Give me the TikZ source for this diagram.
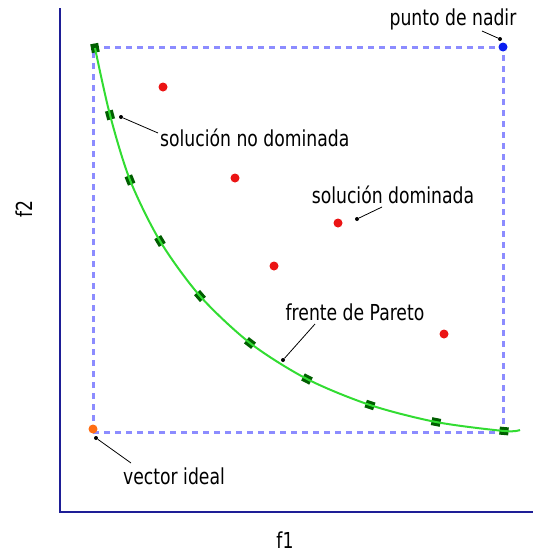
\documentclass[tikz,border=0pt]{standalone}
\usepackage{fontspec}
\setmainfont[FakeStretch=0.87]{DejaVu Sans Condensed}
\usetikzlibrary{positioning}
\definecolor{axisblue}{RGB}{30,30,150}
\definecolor{boundblue}{RGB}{140,140,255}
\definecolor{frontgreen}{RGB}{50,220,50}
\definecolor{optgreen}{RGB}{0,95,0}
\definecolor{domred}{RGB}{235,20,20}
\definecolor{nadirblue}{RGB}{10,30,240}
\definecolor{idealorange}{RGB}{255,110,20}

\begin{document}
\begin{tikzpicture}[
x=1pt, y=-1pt,
axisline/.style={draw=axisblue, line width=2pt},
bound/.style={draw=boundblue, line width=3pt, dash pattern=on 6pt off 5pt},
front/.style={draw=frontgreen, line width=2pt},
optimum/.style={rectangle, fill=optgreen, minimum width=9pt, minimum height=8pt, inner sep=0pt},
solution/.style={circle, fill=domred, minimum size=9pt, inner sep=0pt},
tag/.style={font=\fontsize{22}{24}\selectfont, inner sep=0pt, anchor=base},
pointer/.style={draw, line width=0.8pt},
pointdot/.style={circle, fill, minimum size=4pt, inner sep=0pt}
]
\useasboundingbox (0,0) rectangle (533,554);

% axes and bounds
\draw[axisline] (60,8) -- (60,512) -- (533,512);
\draw[bound] (93,432) rectangle (503,47);

% pareto front
\foreach \x/\y [count=\i] in {95/48, 110/115, 130/180, 160/241, 200/296, 250/343, 307/379, 370/405, 436/422, 504/431}
  \coordinate (p\i) at (\x,\y);
\coordinate (frontend) at (520,430);
\foreach \a [count=\i] in {-80, -75, -68, -59, -49, -38, -27, -18, -11, -5}
  \node[optimum, rotate=\a] (opt\i) at (p\i) {};
\draw[front] plot[smooth] coordinates {(p1) (p2) (p3) (p4) (p5) (p6) (p7) (p8) (p9) (p10) (frontend)};

% dominated solutions
\foreach \x/\y [count=\i] in {163/87, 235/178, 338/223, 274/266, 444/334}
  \node[solution] (dom\i) at (\x,\y) {};
\node[solution, fill=nadirblue] (nadir) at (503,47) {};
\node[solution, fill=idealorange] (ideal) at (93,429) {};

% labels
\node[tag] (nadirtag) at (453,25) {punto de nadir};
\node[tag, anchor=base west] (nondomtag) at (160,146) {solución no dominada};
\node[tag] (domtag) at (393,203) {solución dominada};
\node[tag] (fronttag) at (355,320) {frente de Pareto};
\node[tag] (idealtag) at (174,484) {vector ideal};
\node[tag] (xlabel) at (285,548) {f1};
\node[tag, rotate=90] (ylabel) at (32,209) {f2};

% pointers
\node[pointdot] (nadirend) at (500,39) {};
\node[pointdot] (nondomend) at (121,117) {};
\node[pointdot] (domend) at (357,219) {};
\node[pointdot] (frontpt) at (283,360) {};
\node[pointdot] (idealend) at (96,438) {};
\draw[pointer] ([shift={(29,6)}]nadirtag.base) -- (nadirend);
\draw[pointer] ([shift={(-2,-13)}]nondomtag.base west) -- (nondomend);
\draw[pointer] ([shift={(-11,4)}]domtag.base) -- (domend);
\draw[pointer] ([shift={(-40,4)}]fronttag.base) -- (frontpt);
\draw[pointer] ([shift={(-43,-21)}]idealtag.base) -- (idealend);

\end{tikzpicture}
\end{document}
